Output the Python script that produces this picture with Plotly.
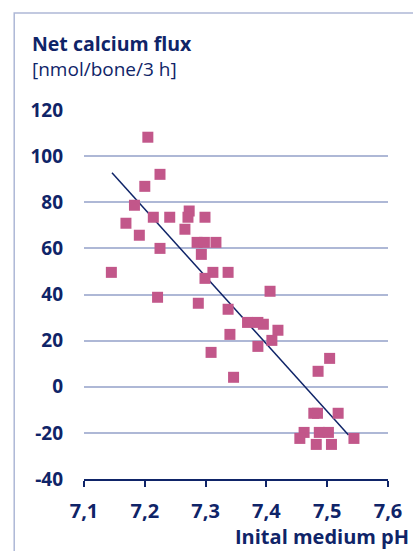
import plotly.graph_objects as go

# Data
ph = [7.205, 7.225, 7.200, 7.183, 7.214, 7.241, 7.273, 7.271, 7.299, 7.169,
      7.266, 7.191, 7.225, 7.286, 7.298, 7.317, 7.293, 7.145, 7.312, 7.337,
      7.299, 7.221, 7.406, 7.288, 7.337, 7.369, 7.386, 7.395, 7.419, 7.340,
      7.409, 7.386, 7.309, 7.504, 7.485, 7.346, 7.478, 7.484, 7.518, 7.462,
      7.487, 7.502, 7.455, 7.544, 7.482, 7.507]
flux = [108.2, 92.1, 86.9, 78.7, 73.5, 73.5, 76.2, 73.5, 73.5, 70.9,
        68.3, 65.7, 60.0, 62.6, 62.6, 62.6, 57.4, 49.6, 49.6, 49.6,
        47.0, 38.8, 41.4, 36.2, 33.6, 27.9, 27.9, 27.1, 24.5, 22.7,
        20.1, 17.5, 14.9, 12.3, 6.7, 4.1, -11.5, -11.5, -11.5, -19.8,
        -19.8, -19.8, -22.4, -22.4, -25.0, -25.0]

trend_x = [7.146, 7.535]
trend_y = [92.8, -20.9]

x_ticks = [7.1, 7.2, 7.3, 7.4, 7.5, 7.6]
x_tick_labels = ["7,1", "7,2", "7,3", "7,4", "7,5", "7,6"]
y_ticks = [-40, -20, 0, 20, 40, 60, 80, 100, 120]
y_tick_labels = ["-40", "-20", "0", "20", "40", "60", "80", "100", "120"]

NAVY = "#0f2468"
GRID = "#aeb8d6"
PINK = "#c2578a"
FONT = "Open Sans"

fig = go.Figure()
fig.add_trace(go.Scatter(x=trend_x, y=trend_y, mode="lines",
                         line=dict(color=NAVY, width=1.5), hoverinfo="skip",
                         showlegend=False))
fig.add_trace(go.Scatter(x=ph, y=flux, mode="markers",
                         marker=dict(symbol="square", size=11, color=PINK,
                                     line=dict(width=0)),
                         showlegend=False))

W, H = 413, 551
L, R, T, B = 84, 11, 110, 72
pw, ph_ = W - L - R, H - T - B

def px_x(px):
    return (px - L) / pw

def px_y(py):
    return (H - B - py) / ph_

fig.update_layout(
    width=W, height=H, autosize=False,
    margin=dict(l=L, r=R, t=T, b=B, pad=0),
    paper_bgcolor="white", plot_bgcolor="white",
    font=dict(family=FONT, color=NAVY),
    xaxis=dict(range=[7.1, 7.6], tickvals=x_ticks, ticktext=x_tick_labels,
               showgrid=False, zeroline=False, showline=True,
               linecolor=NAVY, linewidth=2, ticks="outside", ticklen=6,
               tickwidth=2, tickcolor=NAVY, ticklabeloverflow="allow",
               tickfont=dict(family=FONT, size=20, color=NAVY, weight="bold"),
               ticklabelstandoff=7),
    yaxis=dict(range=[-40, 120], tickvals=y_ticks, ticktext=y_tick_labels,
               showgrid=True, gridcolor=GRID, gridwidth=1.5,
               zeroline=False, showline=False, ticks="",
               ticklabeloverflow="allow",
               tickfont=dict(family=FONT, size=19, color=NAVY, weight="bold"),
               ticklabelstandoff=20),
    shapes=[dict(type="rect", xref="paper", yref="paper",
                 x0=px_x(11), x1=px_x(W + 20), y0=px_y(H + 20), y1=px_y(13),
                 line=dict(color=GRID, width=1.5), fillcolor="rgba(0,0,0,0)",
                 layer="below")],
    annotations=[
        dict(text="<b>Net calcium flux</b>", xref="paper", yref="paper",
             x=px_x(28), y=px_y(43), xanchor="left", yanchor="middle",
             showarrow=False, font=dict(family=FONT, size=19.5, color=NAVY)),
        dict(text="[nmol/bone/3 h]", xref="paper", yref="paper",
             x=px_x(27), y=px_y(69), xanchor="left", yanchor="middle",
             showarrow=False, font=dict(family=FONT, size=19, color=NAVY)),
        dict(text="<b>Inital medium pH</b>", xref="paper", yref="paper",
             x=px_x(240), y=px_y(536), xanchor="left", yanchor="middle",
             showarrow=False, font=dict(family=FONT, size=20, color=NAVY)),
    ],
)

fig.write_html("out.html")
